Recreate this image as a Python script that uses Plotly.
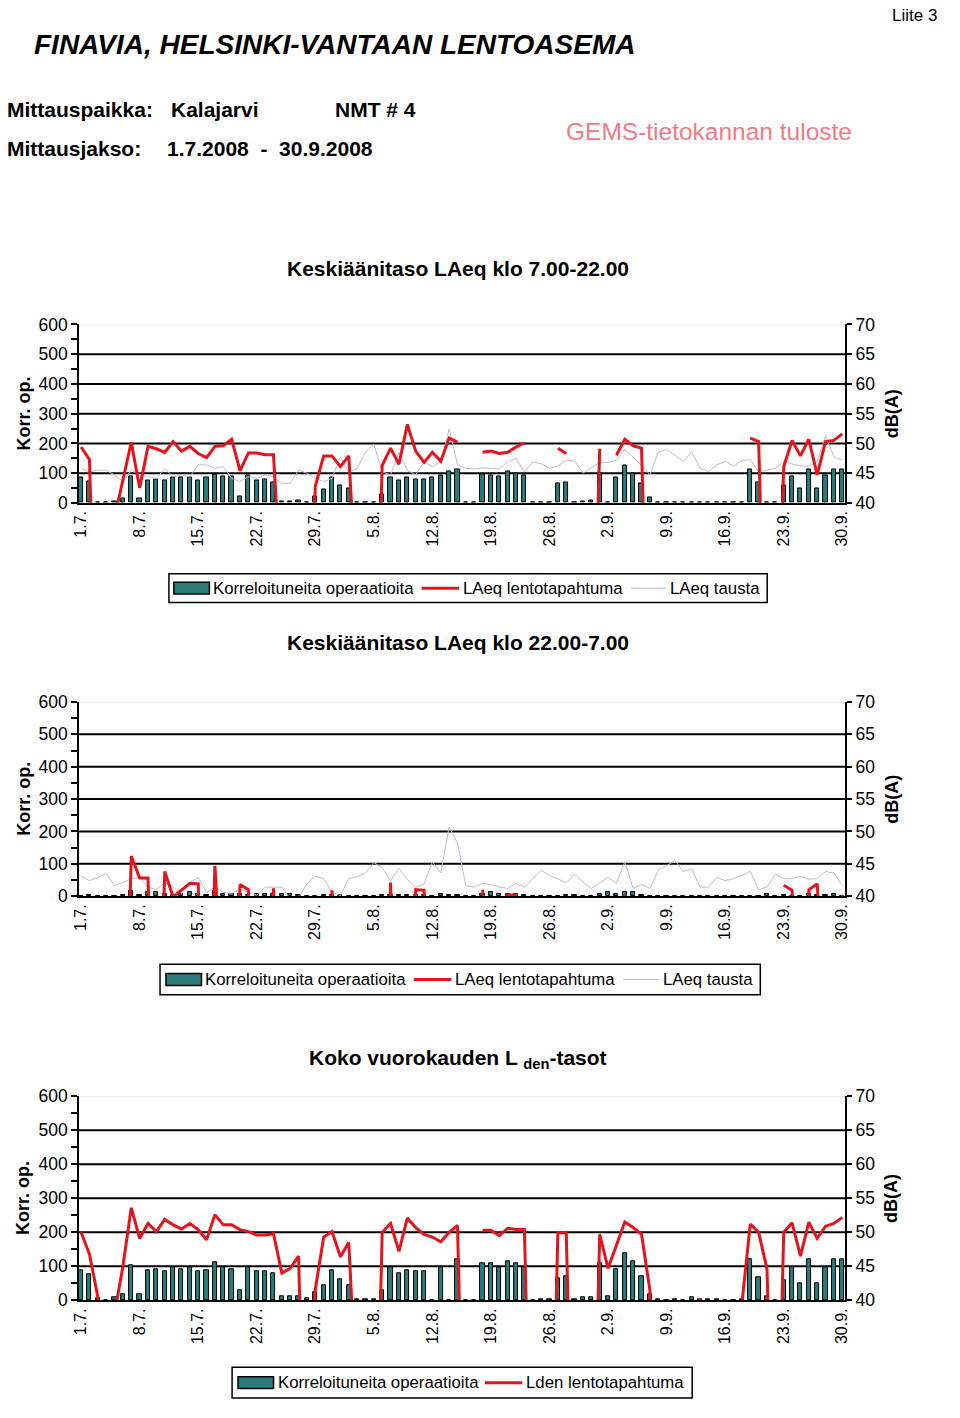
import plotly.graph_objects as go

# ---------------- data ----------------
N = 92
tick_idx = [0, 7, 14, 21, 28, 35, 42, 49, 56, 63, 70, 77, 84, 91]
tick_labels = ["1.7.", "8.7.", "15.7.", "22.7.", "29.7.", "5.8.", "12.8.", "19.8.",
               "26.8.", "2.9.", "9.9.", "16.9.", "23.9.", "30.9."]
days = list(range(N))

# Chart 1: day 7-22
ops_day = [85, 72, 0, 0, 5, 14, 88, 14, 75, 79, 75, 87, 85, 85, 75, 85, 97, 88, 88, 22,
           92, 75, 79, 70, 4, 4, 9, 0, 22, 44, 84, 58, 50, 0, 0, 0, 27, 84, 75, 84,
           79, 79, 84, 92, 106, 114, 0, 0, 97, 92, 88, 104, 99, 92, 0, 0, 0, 66, 70, 0,
           4, 9, 99, 0, 84, 127, 99, 66, 19, 0, 0, 3, 0, 3, 3, 0, 0, 0, 0, 0,
           113, 70, 3, 0, 57, 88, 50, 113, 50, 92, 113, 113]
laeq_event_day = [49.4, 47.3, 0, 0, 37.5, 43.8, 50.2, 42.5, 49.5, 49.1, 48.5, 50.3, 48.7, 49.5, 48.3, 47.6,
                  49.5, 49.6, 50.7, 45.4, 48.4, 48.4, 48.1, 48.1, 0, 0, 0, 0, 42.8, 47.9,
                  47.9, 46.1, 47.9, 0, 0, 0, 46.3, 49.2, 46.5, 53.2, 48.7, 46.8, 48.5, 47.0,
                  50.9, 50.2, None, None, 48.5, 48.7, 48.3, 48.5, 49.4, 50.1, None, None, None,
                  49.2, 48.3, None, None, 0, 49.1, None, 48.0, 50.7, 49.6, 49.2, 0, None,
                  None, None, None, None, None, None, None, None, None, None, 50.9, 50.3, 0, 0,
                  46.1, 50.5, 47.9, 50.7, 44.7, 50.3, 50.5, 51.6]
laeq_bg_day = [45.8, 45.2, 45.5, 45.5, 44.7, 43.6, 45.5, 44.7, 44.4, 44.1, 45.8, 44.4, 44.7, 44.4,
               46.4, 46.4, 45.8, 46.1, 44.1, 43.6, 44.4, 44.1, 44.7, 44.4, 43.3, 43.3, 45.5, 45.0,
               44.1, 43.6, 44.1, 47.7, 45.2, 45.8, 48.5, 49.9, 45.2, 44.7, 48.5, 45.5, 44.7, 46.9,
               46.1, 46.9, 52.4, 46.4, 45.8, 45.7, 45.9, 45.8, 45.7, 46.9, 47.5, 45.2, 46.9, 46.6,
               45.8, 46.2, 47.2, 47.0, 45.0, 45.9, 46.8, 46.8, 47.2, 49.0, 47.7, 46.3, 44.7, 48.5,
               49.0, 48.0, 47.0, 48.6, 45.8, 45.3, 46.4, 47.0, 46.2, 47.1, 47.3, 45.2, 45.5, 45.8,
               46.9, 46.6, 46.2, 46.2, 46.9, 51.3, 47.7, 47.2]

# Chart 2: night 22-7
ops_night = [0, 3, 0, 0, 0, 3, 16, 3, 12, 12, 7, 3, 7, 12, 7, 3, 16, 7, 7, 7,
             3, 7, 7, 7, 7, 7, 3, 0, 0, 3, 3, 3, 0, 0, 0, 0, 3, 3, 3, 3,
             3, 3, 0, 7, 3, 3, 0, 0, 7, 12, 7, 7, 7, 3, 0, 0, 0, 0, 3, 3,
             0, 0, 7, 12, 7, 12, 12, 3, 0, 0, 0, 0, 0, 0, 0, 0, 0, 0, 0, 0,
             2, 0, 7, 0, 3, 0, 0, 7, 3, 3, 7, 0]
laeq_event_night = [None, None, None, None, None, 0, 46.2, 42.8, 42.8, 0, 43.8, 39.9, 40.9, 42.0, 41.9, 0,
                    44.7, 0, 0, 41.8, 41.0, 0, 0, 41.2, 0, 0, 40.1, 0, None, 0, 40.9, 0,
                    None, None, None, None, 0, 42.1, 0, 0, 41.0, 40.9, 0, None, None, None, None,
                    None, 41.0, 0, 0, 40.2, 40.2, 0, None, None, None, None, None, None, None, None,
                    None, None, 0, 40.2, 0, None, None, None, None, None, None, None, None, None,
                    None, None, None, None, None, None, None, None, 41.7, 40.9, 0, 41.0, 41.9, 0,
                    0, 40.2]
laeq_bg_night = [43.1, 42.4, 42.9, 43.5, 41.6, 42.2, 42.7, 42.9, 41.4, 41.0, 42.1, 41.4, 40.4, 42.1,
                 42.9, 40.6, 41.4, 40.6, 40.4, 41.1, 40.6, 40.1, 41.4, 41.4, 41.4, 39.6, 39.8, 41.9,
                 43.1, 42.7, 40.6, 40.1, 42.7, 43.0, 43.6, 45.2, 44.4, 42.4, 44.3, 42.6, 41.4, 41.9,
                 45.3, 43.6, 50.7, 48.2, 41.6, 41.4, 42.0, 41.8, 41.4, 41.2, 42.0, 41.4, 42.7, 44.0,
                 43.2, 42.7, 42.1, 43.4, 42.2, 41.2, 42.0, 42.9, 42.0, 45.3, 41.2, 41.8, 41.2, 44.0,
                 44.7, 45.5, 43.8, 44.2, 41.4, 41.4, 42.9, 42.4, 42.7, 43.2, 43.8, 41.0, 41.4, 43.4,
                 42.7, 42.7, 43.1, 42.6, 42.7, 43.8, 43.6, 41.6]

# Chart 3: Lden
ops_total = [89, 76, 5, 0, 9, 19, 103, 19, 89, 92, 86, 96, 92, 96, 86, 89, 111, 96, 92, 31,
             96, 86, 86, 81, 12, 12, 12, 5, 23, 45, 89, 62, 45, 4, 4, 4, 31, 96, 81, 89,
             86, 86, 0, 96, 0, 122, 0, 0, 108, 108, 96, 115, 108, 96, 0, 3, 3, 65, 72, 4,
             9, 9, 108, 12, 92, 139, 115, 72, 18, 4, 0, 4, 0, 9, 4, 4, 4, 0, 0, 4,
             122, 69, 12, 0, 58, 96, 50, 122, 50, 98, 122, 122]
lden_event = [50.0, 46.8, 40.5, 0, 38.0, 45.0, 53.6, 49.1, 51.3, 50.1, 51.9, 51.1, 50.5, 51.3, 50.4, 48.9,
              52.6, 51.1, 51.1, 50.4, 50.1, 49.6, 49.6, 49.8, 44.0, 44.7, 46.5, 0, 41.6, 49.3,
              50.1, 46.4, 48.5, 0, 0, 0, 50.0, 51.3, 47.2, 52.1, 50.7, 49.7, 49.3, 48.6,
              50.0, 51.0, 0, None, 50.3, 50.3, 49.5, 50.6, 50.4, 50.4, 0, 0, 0, 49.9, 50.0, 0,
              0, 0, 49.7, 44.7, 48.1, 51.5, 50.7, 49.7, 41.5, 0, None, None, None, 0, 40.3, 0,
              None, None, None, 39.5, 51.2, 50.0, 44.6, 0, 50.0, 51.4, 46.5, 51.5, 49.1, 50.9,
              51.3, 52.2]

grid_levels = [100, 200, 300, 400, 500]

legend_names = ["Korreloituneita operaatioita", "LAeq lentotapahtuma", "LAeq tausta"]
legend_names_3 = ["Korreloituneita operaatioita", "Lden lentotapahtuma"]

# ---------------- styling ----------------
# The page keeps the browser's default 8px body margin, so the figure is
# sized to fill the rest of the window exactly and positions are given in
# window pixels (converted below).
OFF = 8
W, H = 960 - 2 * OFF, 1418 - 2 * OFF
FONT = "Arial, Liberation Sans, sans-serif"
TEAL = "#2b7b7b"
RED = "#e3141c"
GRAY = "#b9bcd6"


def fx(px):
    return (px - OFF) / W


def fy(py):
    return 1 - (py - OFF) / H


fig = go.Figure()

panels = [
    dict(top=327, bot=508, ops=ops_day, ev=laeq_event_day, bg=laeq_bg_day),
    dict(top=710, bot=907, ops=ops_night, ev=laeq_event_night, bg=laeq_bg_night),
    dict(top=1110, bot=1317, ops=ops_total, ev=lden_event, bg=None),
]

X0, X1 = 81, 857
for k, p in enumerate(panels):
    xa = "x" if k == 0 else f"x{k+1}"
    yl = "y" if k == 0 else f"y{2*k+1}"
    yr = f"y{2*k+2}"
    fig.add_trace(go.Bar(x=days, y=p["ops"], xaxis=xa, yaxis=yl, width=0.5,
                         marker=dict(color=TEAL, line=dict(color="black", width=1)),
                         showlegend=False))
    if p["bg"] is not None:
        fig.add_trace(go.Scatter(x=days, y=p["bg"], xaxis=xa, yaxis=yr, mode="lines",
                                 line=dict(color=GRAY, width=1), showlegend=False))
    fig.add_trace(go.Scatter(x=days, y=p["ev"], xaxis=xa, yaxis=yr, mode="lines",
                             line=dict(color=RED, width=3), connectgaps=False,
                             showlegend=False))
    dom_y = [fy(p["bot"]), fy(p["top"])]
    xkey = "xaxis" if k == 0 else f"xaxis{k+1}"
    ylkey = "yaxis" if k == 0 else f"yaxis{2*k+1}"
    yrkey = f"yaxis{2*k+2}"
    fig.layout[xkey] = dict(domain=[fx(X0), fx(X1)], anchor=yl, range=[-0.24, 91.35],
                            showline=True, linecolor="black", linewidth=1.5,
                            showgrid=False, zeroline=False, ticks="",
                            tickmode="array", tickvals=tick_idx, ticktext=tick_labels,
                            tickangle=-90, tickfont=dict(family=FONT, size=16, color="black"))
    fig.layout[ylkey] = dict(domain=dom_y, anchor=xa, range=[0, 600], dtick=100,
                             showline=True, linecolor="black", linewidth=1.5,
                             showgrid=False, zeroline=False, ticks="outside", ticklen=6,
                             tickwidth=1.5, tickcolor="black",
                             minor=dict(dtick=50, ticks="outside", ticklen=6, tickwidth=1.5,
                                        tickcolor="black", showgrid=False),
                             tickfont=dict(family=FONT, size=17.5, color="black"))
    fig.layout[yrkey] = dict(domain=dom_y, anchor=xa, overlaying=yl, side="right",
                             range=[40, 70], dtick=5, showline=True, linecolor="black",
                             linewidth=1.5, showgrid=False, zeroline=False, ticks="outside",
                             ticklen=5, tickwidth=1.5, tickcolor="black",
                             tickfont=dict(family=FONT, size=17.5, color="black"))
    for g in grid_levels:
        fig.add_shape(type="line", xref=f"{xa} domain", yref=yl, x0=0, x1=1, y0=g, y1=g,
                      line=dict(color="black", width=2), layer="below")
    fig.add_shape(type="line", xref=f"{xa} domain", yref=yl, x0=0, x1=1, y0=600, y1=600,
                  line=dict(color="#e4e4e4", width=1.5), layer="below")
    # axis titles
    fig.add_annotation(x=fx(25), y=(dom_y[0] + dom_y[1]) / 2, xref="paper", yref="paper",
                       text="<b>Korr. op.</b>", textangle=-90, showarrow=False,
                       xanchor="center", yanchor="middle",
                       font=dict(family=FONT, size=18, color="black"))
    fig.add_annotation(x=fx(904), y=(dom_y[0] + dom_y[1]) / 2, xref="paper", yref="paper",
                       text="<b>dB(A)</b>", textangle=-90, showarrow=False,
                       xanchor="center", yanchor="middle",
                       font=dict(family=FONT, size=18, color="black"))

# chart titles
titles = [("Keskiäänitaso LAeq klo 7.00-22.00", 270),
          ("Keskiäänitaso LAeq klo 22.00-7.00", 650),
          ("Koko vuorokauden L <sub>den</sub>-tasot", 1072)]
for t, ypx in titles:
    fig.add_annotation(x=fx(465), y=fy(ypx), xref="paper", yref="paper", text=f"<b>{t}</b>",
                       showarrow=False, xanchor="center", yanchor="middle",
                       font=dict(family=FONT, size=21, color="black"))

# header texts
hdr = [
    ("Liite 3", 952, 14, 17, "right", "black"),
    ("<b><i>FINAVIA, HELSINKI-VANTAAN LENTOASEMA</i></b>", 33, 43, 28, "left", "black"),
    ("<b>Mittauspaikka:</b>", 6, 109, 21, "left", "black"),
    ("<b>Kalajarvi</b>", 172, 109, 21, "left", "black"),
    ("<b>NMT # 4</b>", 338, 109, 21, "left", "black"),
    ("<b>Mittausjakso:</b>", 6, 148, 21, "left", "black"),
    ("<b>1.7.2008  -  30.9.2008</b>", 168, 148, 21, "left", "black"),
    ("GEMS-tietokannan tuloste", 572, 131, 24.5, "left", "#ef7c84"),
]
for text, xp, yp, size, anchor, col in hdr:
    fig.add_annotation(x=fx(xp), y=fy(yp), xref="paper", yref="paper", text=text,
                       showarrow=False, xanchor=anchor, yanchor="middle",
                       font=dict(family=FONT, size=size, color=col))

# manual legends: (box left, box right, top, bottom, names, item lefts)
legends = [
    (172, 778, 580, 609, legend_names, [177, 428, 640]),
    (163, 771, 976, 1007, legend_names, [169, 420, 632]),
    (236, 702, 1385, 1416, legend_names_3, [242, 492]),
]
symbol_styles = ["bar", "red", "gray"]
for left, right, top, bot, names, lefts in legends:
    fig.add_shape(type="rect", xref="paper", yref="paper", x0=fx(left), x1=fx(right),
                  y0=fy(bot), y1=fy(top), line=dict(color="black", width=1.5),
                  fillcolor="white", layer="above")
    yc = (top + bot) / 2
    for j, (nm, lx) in enumerate(zip(names, lefts)):
        st = symbol_styles[j]
        if st == "bar":
            fig.add_shape(type="rect", xref="paper", yref="paper", x0=fx(lx), x1=fx(lx + 36),
                          y0=fy(yc + 6), y1=fy(yc - 6), fillcolor=TEAL,
                          line=dict(color="black", width=1.5), layer="above")
            sw = 36
        elif st == "red":
            fig.add_shape(type="line", xref="paper", yref="paper", x0=fx(lx), x1=fx(lx + 38),
                          y0=fy(yc), y1=fy(yc), line=dict(color=RED, width=3), layer="above")
            sw = 38
        else:
            fig.add_shape(type="line", xref="paper", yref="paper", x0=fx(lx), x1=fx(lx + 36),
                          y0=fy(yc), y1=fy(yc), line=dict(color=GRAY, width=1), layer="above")
            sw = 36
        fig.add_annotation(x=fx(lx + sw + 2), y=fy(yc), xref="paper", yref="paper", text=nm,
                           showarrow=False, xanchor="left", yanchor="middle",
                           font=dict(family=FONT, size=16.8, color="black"))

fig.update_layout(
    width=W, height=H, margin=dict(l=0, r=0, t=0, b=0),
    paper_bgcolor="white", plot_bgcolor="white", showlegend=False, bargap=0,
)

fig.write_html("out.html")
